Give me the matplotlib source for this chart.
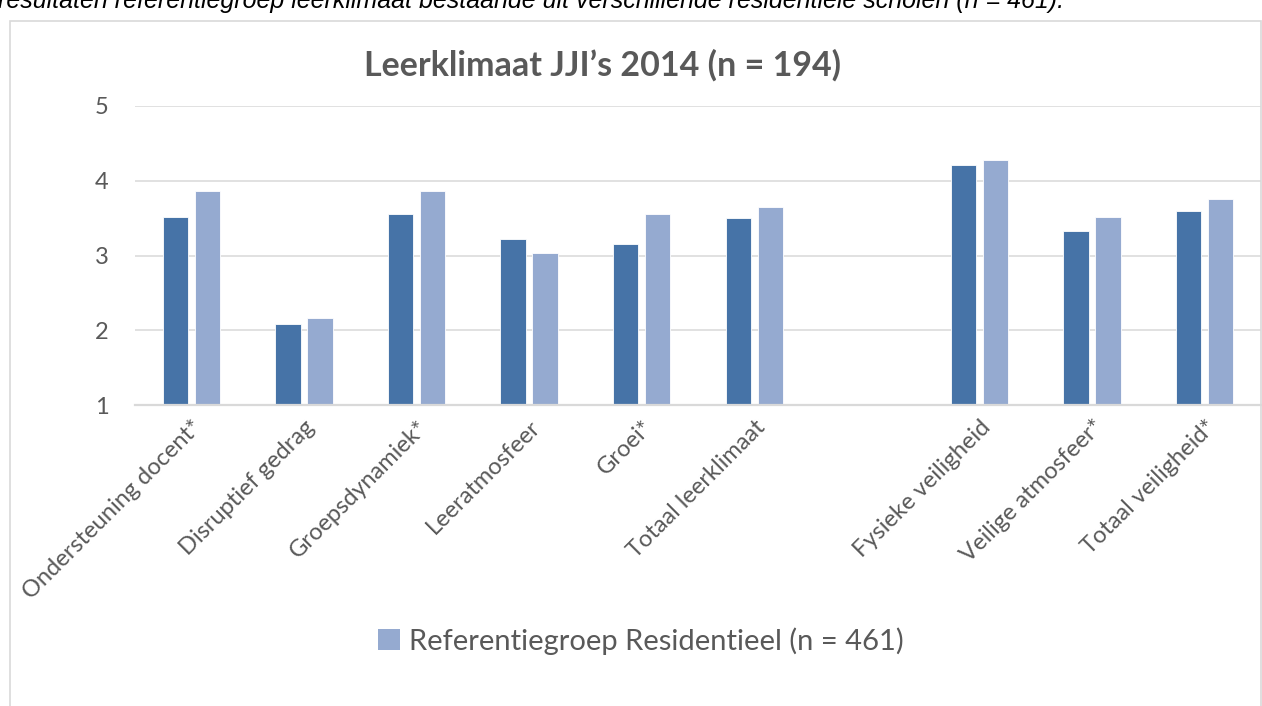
import numpy as np
import matplotlib
matplotlib.use("Agg")
import matplotlib.pyplot as plt
from matplotlib.patches import Rectangle, Patch

# categorieen (lege plek tussen leerklimaat en veiligheid)
categorieen = ["Ondersteuning docent*", "Disruptief gedrag", "Groepsdynamiek*",
               "Leeratmosfeer", "Groei*", "Totaal leerklimaat", "",
               "Fysieke veiligheid", "Veilige atmosfeer*", "Totaal veiligheid*"]

# JJI's 2014 (n = 194)
jji_2014 = [3.52, 2.09, 3.55, 3.22, 3.16, 3.50, np.nan, 4.21, 3.33, 3.60]
# Referentiegroep Residentieel (n = 461)
referentie = [3.86, 2.17, 3.86, 3.04, 3.55, 3.65, np.nan, 4.28, 3.52, 3.76]

y_ticks = [1, 2, 3, 4, 5]

titel = "Leerklimaat JJI\u2019s 2014 (n = 194)"
bijschrift = ("resultaten referentiegroep leerklimaat bestaande uit verschillende "
              "residenti\u00eble scholen (n = 461).")
label_ref = "Referentiegroep Residentieel (n = 461)"

DONKER = "#4673A7"
LICHT = "#95AAD0"
GRIJS = "#595959"
LIJN = "#D9D9D9"

plt.rcParams['font.family'] = ['Lato', 'DejaVu Sans']

W, H = 1262, 706
fig = plt.figure(figsize=(W / 100, H / 100), dpi=100)
ax = fig.add_axes([135 / W, 1 - 405 / H, (1261 - 135) / W, (405 - 106) / H])

x = np.arange(len(categorieen))
breedte = 0.225
ax.bar(x - 0.142, jji_2014, breedte, bottom=0, color=DONKER, edgecolor="white", linewidth=0.6, zorder=3)
ax.bar(x + 0.142, referentie, breedte, bottom=0, color=LICHT, edgecolor="white", linewidth=0.6, zorder=3)

ax.set_ylim(1, 5)
ax.set_xlim(-0.5, len(categorieen) - 0.5)
ax.set_yticks(y_ticks)
ax.set_yticklabels([str(t) for t in y_ticks], fontsize=17, color=GRIJS)
ax.grid(axis="y", color=LIJN, linewidth=1.1, zorder=0)
ax.set_xticks(x)
ax.set_xticklabels(categorieen, rotation=45, ha="right", va="top",
                   rotation_mode="anchor", fontsize=17, color=GRIJS)
ax.tick_params(axis="both", length=0)
ax.tick_params(axis="y", pad=19)
ax.tick_params(axis="x", pad=8)
for kant in ["top", "right", "left"]:
    ax.spines[kant].set_visible(False)
ax.spines["bottom"].set_color(LIJN)
ax.spines["bottom"].set_linewidth(1.6)
ax.spines["bottom"].set_zorder(4)

# titel
fig.text(603 / W, 1 - 76 / H, titel, ha="center", va="baseline",
         fontsize=24.5, fontweight="bold", color=GRIJS)

# rand van de grafiek
fig.patches.append(Rectangle((10 / W, -0.05), (1261 - 10) / W, 1.05 - 21 / H,
                             transform=fig.transFigure, fill=False,
                             edgecolor=LIJN, linewidth=1.2))

# afgesneden bijschrift bovenaan
fig.text(-2 / W, 1 - 8 / H, bijschrift, ha="left", va="baseline", fontsize=18,
         style="italic", family="Liberation Sans", color="black")

# legenda
fig.legend(handles=[Patch(facecolor=LICHT, edgecolor="none")], labels=[label_ref],
           loc="center", bbox_to_anchor=(641 / W, 1 - 641 / H), frameon=False,
           fontsize=21, labelcolor=GRIJS, handlelength=0.75, handleheight=0.75,
           handletextpad=0.3)

fig.savefig("out.png", dpi=100)
